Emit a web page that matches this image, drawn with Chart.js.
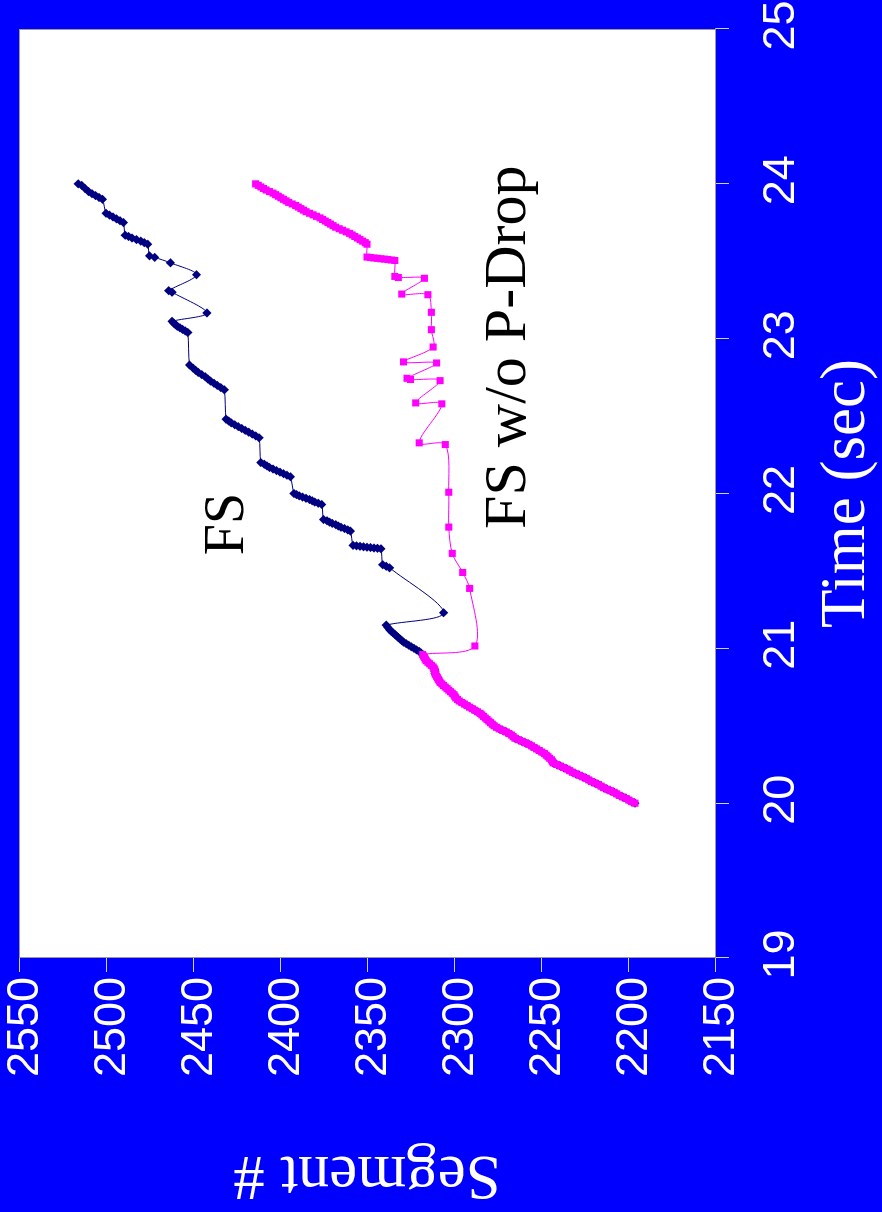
<!DOCTYPE html>
<html>
<head>
<meta charset="utf-8">
<script src="https://cdn.jsdelivr.net/npm/chart.js@4.4.1/dist/chart.umd.min.js"></script>
<style>
  html, body { margin: 0; padding: 0; background: #0000ff; overflow: hidden; }
  /* chart is drawn landscape and turned a quarter turn, like the scanned figure */
  #wrap {
    position: absolute; left: 0; top: 0; width: 1212px; height: 882px;
    transform-origin: 0 0;
    transform: translate(0, 1212px) rotate(-90deg);
  }
</style>
</head>
<body>
<div id="wrap"><canvas id="segChart" width="1212" height="882"></canvas></div>
<script>
// slow-start ramp shared by both runs (t in sec, segment #)
const rampTime = [20.00, 20.01, 20.02, 20.03, 20.04, 20.05, 20.06, 20.07, 20.08, 20.09, 20.10, 20.11, 20.12, 20.13,
  20.14, 20.15, 20.16, 20.17, 20.18, 20.19, 20.20, 20.21, 20.22, 20.23, 20.24, 20.25, 20.26, 20.27, 20.28, 20.29,
  20.30, 20.31, 20.32, 20.33, 20.34, 20.35, 20.36, 20.37, 20.38, 20.39, 20.40, 20.41, 20.42, 20.43, 20.44, 20.45,
  20.46, 20.47, 20.48, 20.49, 20.50, 20.51, 20.52, 20.53, 20.54, 20.55, 20.56, 20.57, 20.58, 20.59, 20.60, 20.61,
  20.62, 20.63, 20.64, 20.65, 20.66, 20.67, 20.68, 20.69, 20.70, 20.71, 20.72, 20.73, 20.74, 20.75, 20.76, 20.77,
  20.78, 20.79, 20.80, 20.81, 20.82, 20.83, 20.84, 20.85, 20.86, 20.87, 20.88, 20.89, 20.90, 20.91, 20.92, 20.93,
  20.94, 20.95, 20.96]
const rampSeg = [2196, 2198, 2199.5, 2201, 2203, 2205, 2206.5, 2208, 2210, 2212, 2214, 2215.5, 2217, 2219,
  2221, 2222.5, 2224, 2226, 2228, 2230, 2232, 2233.5, 2235, 2237, 2239, 2241, 2243, 2243.5, 2244, 2245,
  2246, 2247, 2248, 2249.5, 2251, 2252.5, 2254, 2255.5, 2257, 2259, 2261, 2263, 2265, 2266, 2267, 2268.5,
  2270, 2272, 2274, 2275.5, 2277, 2278, 2279, 2280, 2281, 2282, 2283, 2284, 2285, 2286.5, 2288, 2289.5,
  2291, 2292.5, 2294, 2295.5, 2297, 2298, 2299, 2299.5, 2300, 2301, 2302, 2303, 2304, 2305, 2306, 2307,
  2308, 2308.5, 2309, 2309.5, 2310, 2310.5, 2311, 2311, 2311, 2311.5, 2312, 2313, 2314, 2315, 2316, 2316.5,
  2317, 2317.5, 2318]

// FS after the ramp
const fsTime = [20.97, 20.98, 20.99, 21.00, 21.01, 21.02, 21.03, 21.04, 21.05, 21.06, 21.07, 21.08, 21.09,
  21.10, 21.11, 21.12, 21.135, 21.15, 21.23, 21.52, 21.53, 21.54,
  21.643, 21.646, 21.648, 21.651, 21.653, 21.656, 21.659, 21.662, 21.665,
  21.757, 21.765, 21.774, 21.782, 21.790, 21.799, 21.807, 21.815, 21.824, 21.832,
  21.929, 21.937, 21.945, 21.953, 21.961, 21.969, 21.977, 21.985, 21.993, 22.000,
  22.108, 22.118, 22.128, 22.138, 22.148, 22.158, 22.168, 22.178, 22.189, 22.200,
  22.360, 22.372, 22.384, 22.396, 22.408, 22.420, 22.432, 22.444, 22.456, 22.468, 22.480,
  22.670, 22.684, 22.698, 22.712, 22.726, 22.740, 22.754, 22.768, 22.782, 22.796, 22.810, 22.830,
  23.040, 23.050, 23.060, 23.070, 23.080, 23.090, 23.100, 23.112,
  23.166, 23.300, 23.310, 23.413, 23.490, 23.525, 23.535,
  23.610, 23.620, 23.630, 23.640, 23.650, 23.660, 23.668,
  23.750, 23.762, 23.774, 23.786, 23.798, 23.810,
  23.900, 23.912, 23.924, 23.936, 23.950, 23.970, 23.990, 24.000]
const fsSeg = [2319, 2320, 2321.5, 2323, 2324.5, 2326, 2327.5, 2329, 2330, 2331, 2332, 2333, 2334,
  2335, 2336, 2337, 2338, 2339, 2306, 2337, 2339, 2341,
  2342, 2344, 2346, 2348, 2350, 2352, 2354, 2356, 2358,
  2359.5, 2361, 2363, 2365, 2366.5, 2368, 2370, 2371.5, 2373, 2375,
  2376, 2378, 2380, 2381.5, 2383, 2385, 2387, 2389, 2390.5, 2392,
  2394, 2396, 2398, 2400, 2402, 2404, 2406, 2407.5, 2409, 2411,
  2412, 2414, 2416, 2418, 2420, 2422, 2424, 2426, 2428, 2429.5, 2431,
  2432, 2434, 2436, 2438, 2440, 2441.5, 2443, 2445, 2447, 2448.5, 2450, 2452,
  2453, 2454.5, 2456, 2457.5, 2459, 2460, 2461, 2462,
  2442, 2462, 2464, 2448, 2463, 2472, 2475,
  2476, 2478, 2480, 2482.5, 2485, 2487, 2489,
  2490, 2492, 2494, 2496, 2498, 2500,
  2502, 2504, 2506, 2508, 2510, 2512, 2514, 2516]

// FS w/o P-Drop after the ramp
const dropTime = [21.015, 21.387, 21.49, 21.613, 21.783, 22.008, 22.316, 22.327, 22.579, 22.585, 22.729, 22.736,
  22.744, 22.843, 22.85, 22.946, 23.058, 23.17, 23.284, 23.288, 23.39, 23.395, 23.402,
  23.505, 23.508, 23.511, 23.514, 23.516, 23.519, 23.521, 23.524, 23.527, 23.61,
  23.62, 23.63, 23.64, 23.65, 23.66, 23.67, 23.68, 23.69, 23.70, 23.71, 23.72, 23.73, 23.74, 23.75, 23.76,
  23.77, 23.78, 23.79, 23.80, 23.81, 23.82, 23.83, 23.84, 23.85, 23.86, 23.87, 23.88, 23.89, 23.90, 23.91,
  23.92, 23.93, 23.94, 23.95, 23.96, 23.97, 23.98, 23.99, 24.00]
const dropSeg = [2288, 2291, 2295, 2301, 2303, 2303, 2305, 2320, 2307, 2322, 2308, 2325,
  2327, 2310, 2329, 2312, 2313, 2313, 2315, 2330, 2317, 2332, 2334,
  2334, 2336, 2338, 2340, 2342, 2344, 2346, 2348, 2350, 2350,
  2351, 2352.5, 2354, 2355.5, 2357, 2358.5, 2360, 2362, 2364, 2366, 2368, 2369.5, 2371, 2372.5, 2374,
  2375.5, 2377, 2379, 2381, 2383, 2385, 2386.5, 2388, 2389.5, 2391, 2393, 2395, 2396.5, 2398, 2399.5,
  2401, 2402.5, 2404, 2406, 2408, 2409.5, 2411, 2412.5, 2414]

const timeTicks = [19, 20, 21, 22, 23, 24, 25]
const segTicks = [2150, 2200, 2250, 2300, 2350, 2400, 2450, 2500, 2550]

// in-plot series names, placed in data units
const tagText = ["FS", "FS w/o P-Drop"]
const tagTime = [21.803, 22.945]
const tagSeg = [2430, 2268]

const tagFonts = ['56px "Liberation Serif"', '60px "Liberation Serif"']

function toPoints(t, s) {
  return t.map((v, i) => ({ x: v, y: s[i] }))
}

const fsPoints = toPoints(rampTime.concat(fsTime), rampSeg.concat(fsSeg))
const dropPoints = toPoints(rampTime.concat(dropTime), rampSeg.concat(dropSeg))

// white plot area with thin grey frame
const plotFrame = {
  id: 'plotFrame',
  beforeDraw(chart) {
    const { ctx, chartArea: a } = chart
    ctx.save()
    ctx.fillStyle = '#ffffff'
    ctx.fillRect(a.left, a.top, a.right - a.left, a.bottom - a.top)
    ctx.strokeStyle = '#9a9a9a'
    ctx.lineWidth = 1
    ctx.strokeRect(a.left + 0.5, a.top + 0.5, a.right - a.left - 1, a.bottom - a.top)
    ctx.restore()
  }
}

const seriesNames = {
  id: 'seriesNames',
  afterDatasetsDraw(chart) {
    const { ctx, scales } = chart
    ctx.save()
    ctx.fillStyle = '#000000'
    ctx.textAlign = 'center'
    ctx.textBaseline = 'middle'
    tagText.forEach((txt, i) => {
      ctx.font = tagFonts[i]
      ctx.fillText(txt, scales.x.getPixelForValue(tagTime[i]), scales.y.getPixelForValue(tagSeg[i]))
    })
    ctx.restore()
  }
}

const config = {
  type: 'line',
  data: {
    datasets: [{
      label: 'FS w/o P-Drop',
      data: dropPoints,
      borderColor: '#ff00ff',
      backgroundColor: '#ff00ff',
      borderWidth: 1,
      pointStyle: 'rect',
      pointRadius: 5,
      pointBorderWidth: 0,
      tension: 0.3,
      order: 0
    }, {
      label: 'FS',
      data: fsPoints,
      borderColor: '#000080',
      backgroundColor: '#000080',
      borderWidth: 1,
      pointStyle: 'rectRot',
      pointRadius: 4.6,
      pointBorderWidth: 0,
      tension: 0.3,
      order: 1
    }]
  },
  plugins: [plotFrame, seriesNames],
  options: {
    responsive: false,
    animation: false,
    events: [],
    layout: { padding: { top: 19, right: 29, left: 0, bottom: 0 } },
    plugins: {
      legend: { display: false },
      tooltip: { enabled: false }
    },
    scales: {
      x: {
        type: 'linear',
        min: 19,
        max: 25,
        afterBuildTicks(scale) {
          scale.ticks = timeTicks.map(v => ({ value: v }))
        },
        ticks: {
          color: '#ffffff',
          font: { family: 'Liberation Sans', size: 45 },
          padding: 26,
          labelOffset: 3.5,
          maxRotation: 0,
          callback: v => String(v)
        },
        grid: { drawOnChartArea: false, tickLength: 14, color: '#d0d0d0' },
        border: { color: '#9a9a9a' },
        title: {
          display: true,
          text: 'Time (sec)',
          color: '#ffffff',
          font: { family: 'Liberation Serif', size: 63, lineHeight: 1.1 },
          padding: 0
        },
        afterFit(scale) {
          scale.height = 167
          scale.paddingLeft = 0
          scale.paddingRight = 0
        }
      },
      y: {
        min: 2150,
        max: 2550,
        afterBuildTicks(scale) {
          scale.ticks = segTicks.map(v => ({ value: v }))
        },
        ticks: {
          color: '#ffffff',
          font: { family: 'Liberation Sans', size: 45 },
          padding: 5,
          labelOffset: 6.5,
          callback: v => String(v)
        },
        grid: { drawOnChartArea: false, tickLength: 14, color: '#d0d0d0' },
        border: { color: '#9a9a9a' },
        title: {
          display: true,
          text: 'Segment #',
          color: '#ffffff',
          font: { family: 'Liberation Serif', size: 63, lineHeight: 1.1 },
          padding: { top: 4, bottom: 0 }
        },
        afterFit(scale) {
          scale.width = 254
          scale.paddingTop = 0
          scale.paddingBottom = 0
        }
      }
    }
  }
}

const segChart = new Chart(document.getElementById('segChart'), config)
</script>
</body>
</html>
